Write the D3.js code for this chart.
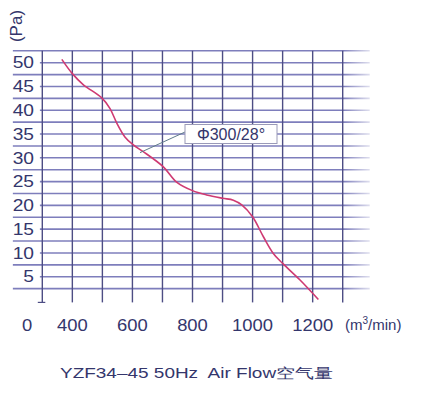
<!DOCTYPE html>
<html><head><meta charset="utf-8">
<script src="https://cdn.jsdelivr.net/npm/d3@7"></script>
<style>html,body{margin:0;padding:0;background:#fff;}svg{display:block;}</style>
</head><body>
<script>
// Data
const flow = [365, 400, 436, 498, 525, 548, 575, 603, 636, 703, 747, 800, 847, 900, 936, 964, 1000, 1036, 1069, 1100, 1158, 1219];
const pressure = [50.7, 47.7, 45.4, 42.6, 40.4, 37.3, 34.4, 32.7, 31.3, 28.1, 24.9, 23.1, 22.2, 21.5, 21.1, 20.1, 17.6, 13.4, 9.9, 7.8, 4.3, 0.2];
const xTickLabels = [400, 600, 800, 1000, 1200];
const yTickLabels = [5, 10, 15, 20, 25, 30, 35, 40, 45, 50];
const seriesLabel = "Φ300/28°";
const title = "YZF34–45 50Hz  Air Flow空气量";

const W = 426, H = 407;
const svg = d3.select("body").append("svg").attr("width", W).attr("height", H);

const x = d3.scaleLinear().domain([300, 1300]).range([42.3, 342.7]);
const y = d3.scaleLinear().domain([0, 50]).range([300.5, 62.7]);

const textColor = "#34366c";
const gridColor = "#7e7ebc";
const font = "'Liberation Sans', Arial, sans-serif";

// gradient for fading horizontal line ends
const defs = svg.append("defs");
const grad = defs.append("linearGradient").attr("id", "fade")
  .attr("gradientUnits", "userSpaceOnUse")
  .attr("x1", 0).attr("x2", W).attr("y1", 0).attr("y2", 0);
grad.append("stop").attr("offset", x(1300) / W).attr("stop-color", gridColor).attr("stop-opacity", 1);
grad.append("stop").attr("offset", x(1390) / W).attr("stop-color", gridColor).attr("stop-opacity", 0.25);

// horizontal grid
const hVals = d3.range(2.5, 52.6, 2.5);
svg.append("g").selectAll("line").data(hVals).join("line")
  .attr("x1", d => (d % 5 === 0) ? x(292) : x(202))
  .attr("x2", x(1390))
  .attr("y1", d => y(d)).attr("y2", d => y(d))
  .attr("stroke", "url(#fade)").attr("stroke-width", 1.6);

// vertical grid
const vVals = d3.range(300, 1301, 100);
svg.append("g").selectAll("line").data(vVals).join("line")
  .attr("x1", d => x(d)).attr("x2", d => x(d))
  .attr("y1", y(52.5)).attr("y2", y(-0.4))
  .attr("stroke", "#4d4d84").attr("stroke-width", 1.4);
// small tick at bottom left corner
svg.append("line").attr("x1", x(285)).attr("x2", x(310))
  .attr("y1", y(-0.4)).attr("y2", y(-0.4))
  .attr("stroke", "#4d4d84").attr("stroke-width", 1.2);

// curve
const pts = flow.map((f, i) => [f, pressure[i]]);
const line = d3.line().x(d => x(d[0])).y(d => y(d[1])).curve(d3.curveCatmullRom.alpha(0.5));
svg.append("path").datum(pts).attr("d", line)
  .attr("fill", "none").attr("stroke", "#cf3a72").attr("stroke-width", 1.6);

// y tick labels
svg.append("g").selectAll("text").data(yTickLabels).join("text")
  .attr("x", 34).attr("y", d => y(d))
  .attr("dy", "0.36em")
  .attr("text-anchor", "end")
  .attr("font-family", font).attr("font-size", 16)
  .attr("fill", textColor)
  .attr("transform", `translate(34,0) scale(1.2,1) translate(-34,0)`)
  .text(d => d);

// x tick labels
svg.append("g").selectAll("text").data(xTickLabels).join("text")
  .attr("x", d => x(d)).attr("y", 331)
  .attr("text-anchor", "middle")
  .attr("font-family", font).attr("font-size", 16)
  .attr("fill", textColor)
  .attr("transform", d => `translate(${x(d)},0) scale(1.15,1) translate(${-x(d)},0)`)
  .text(d => d);
svg.append("text").attr("x", 27).attr("y", 331).attr("text-anchor", "middle")
  .attr("font-family", font).attr("font-size", 16).attr("fill", textColor)
  .attr("transform", "translate(27,0) scale(1.15,1) translate(-27,0)")
  .text("0");

// x unit label
const unit = svg.append("text").attr("x", 345).attr("y", 330)
  .attr("font-family", font).attr("font-size", 15).attr("fill", textColor);
unit.append("tspan").text("(m");
unit.append("tspan").attr("font-size", 10).attr("dy", -6).text("3");
unit.append("tspan").attr("dy", 6).text("/min)");

// y unit label
svg.append("text").attr("transform", "translate(22,26) rotate(-90)")
  .attr("text-anchor", "middle")
  .attr("font-family", font).attr("font-size", 17).attr("fill", textColor)
  .text("(Pa)");

// series label with leader
svg.append("line").attr("x1", 140).attr("y1", y(31.3) + 1)
  .attr("x2", 185).attr("y2", 132)
  .attr("stroke", "#5f7a8a").attr("stroke-width", 1);
svg.append("rect").attr("x", 185).attr("y", 124.5).attr("width", 92).attr("height", 19)
  .attr("fill", "#fff").attr("stroke", "#9a9ab8").attr("stroke-width", 1);
svg.append("text").attr("x", 231).attr("y", 139.5).attr("text-anchor", "middle")
  .attr("font-family", font).attr("font-size", 16).attr("fill", textColor)
  .text(seriesLabel);

// title
svg.append("text").attr("x", 60).attr("y", 378)
  .attr("font-family", font).attr("font-size", 14).attr("fill", textColor)
  .attr("textLength", 273).attr("lengthAdjust", "spacingAndGlyphs")
  .attr("xml:space", "preserve")
  .text(title);
</script>
</body></html>
